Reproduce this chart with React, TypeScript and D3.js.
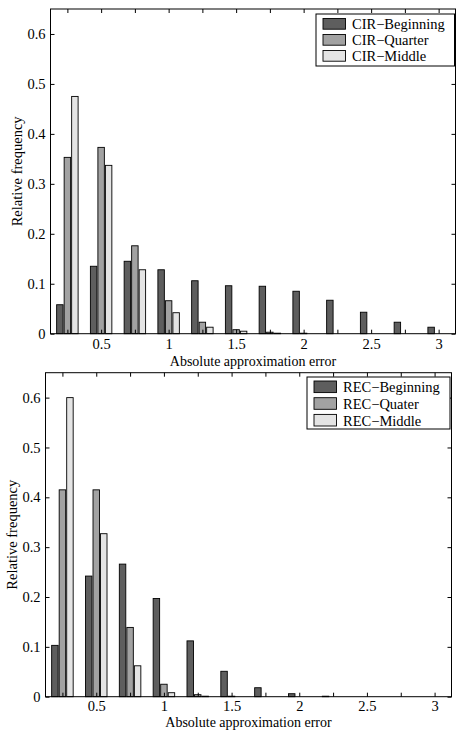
import React, { useRef, useEffect } from 'react';
import * as d3 from 'd3';

// bin centres of the histogram (absolute approximation error)
const bins = [0.25, 0.5, 0.75, 1, 1.25, 1.5, 1.75, 2, 2.25, 2.5, 2.75, 3];

// upper panel: CIR
const cirBeginning = [0.058, 0.135, 0.145, 0.128, 0.106, 0.096, 0.095, 0.085, 0.067, 0.043, 0.023, 0.013];
const cirQuarter = [0.353, 0.373, 0.176, 0.066, 0.023, 0.008, 0.003, 0.001, 0, 0, 0, 0];
const cirMiddle = [0.475, 0.337, 0.128, 0.042, 0.013, 0.005, 0.001, 0, 0, 0, 0, 0];
const cirNames = ['CIR\u2212Beginning', 'CIR\u2212Quarter', 'CIR\u2212Middle'];

// lower panel: REC
const recBeginning = [0.103, 0.242, 0.266, 0.197, 0.112, 0.051, 0.018, 0.006, 0.001, 0, 0, 0];
const recQuater = [0.415, 0.415, 0.139, 0.025, 0.004, 0.001, 0, 0, 0, 0, 0, 0];
const recMiddle = [0.6, 0.327, 0.062, 0.008, 0.001, 0, 0, 0, 0, 0, 0, 0];
const recNames = ['REC\u2212Beginning', 'REC\u2212Quater', 'REC\u2212Middle'];

const xTicks = [0.25, 0.5, 0.75, 1, 1.25, 1.5, 1.75, 2, 2.25, 2.5, 2.75, 3];
const xTickLabels = ['', '0.5', '', '1', '', '1.5', '', '2', '', '2.5', '', '3'];
const yTicks = [0, 0.1, 0.2, 0.3, 0.4, 0.5, 0.6];
const yTickLabels = ['0', '0.1', '0.2', '0.3', '0.4', '0.5', '0.6'];

const colors = ['#5e5e5e', '#a2a2a2', '#e4e4e4'];
const FONT = '"Liberation Serif", "Times New Roman", serif';
const FS = 14.5;

function drawPanel(svg, cfg) {
  const { left, right, top, bottom, series, names, ylabelX, xlabelY, xlabelSize, tickPad, legend } = cfg;
  const g = svg.append('g');

  const x = d3.scaleLinear().domain([0.125, 3.125]).range([left, right]);
  const y = d3.scaleLinear().domain([0, 0.65]).range([bottom, top]);

  // matlab style grouped bars
  const step = 0.25;
  const slot = (step * 0.667) / 3;
  const bw = slot * 0.86;

  series.forEach((vals, si) => {
    g.append('g')
      .selectAll('rect')
      .data(vals)
      .join('rect')
      .attr('x', (d, i) => x(bins[i] + (si - 1) * slot - bw / 2))
      .attr('width', x(bw) - x(0))
      .attr('y', d => y(d))
      .attr('height', d => y(0) - y(d))
      .attr('fill', colors[si])
      .attr('stroke', '#000')
      .attr('stroke-width', 0.9);
  });

  // frame
  g.append('rect')
    .attr('x', left).attr('y', top)
    .attr('width', right - left).attr('height', bottom - top)
    .attr('fill', 'none').attr('stroke', '#000').attr('stroke-width', 1);

  const style = sel => {
    sel.select('.domain').remove();
    sel.selectAll('line').attr('stroke', '#000');
    sel.selectAll('text').attr('font-family', FONT).attr('font-size', FS).attr('fill', '#000');
  };

  g.append('g').attr('transform', `translate(0,${bottom})`)
    .call(d3.axisBottom(x).tickValues(xTicks).tickSizeInner(-4).tickSizeOuter(0).tickPadding(tickPad)
      .tickFormat((d, i) => xTickLabels[i]))
    .call(style);
  g.append('g').attr('transform', `translate(0,${top})`)
    .call(d3.axisTop(x).tickValues(xTicks).tickSizeInner(-4).tickSizeOuter(0).tickFormat(() => ''))
    .call(style);
  g.append('g').attr('transform', `translate(${left},0)`)
    .call(d3.axisLeft(y).tickValues(yTicks).tickSizeInner(-4).tickSizeOuter(0).tickPadding(5)
      .tickFormat((d, i) => yTickLabels[i]))
    .call(style);
  g.append('g').attr('transform', `translate(${right},0)`)
    .call(d3.axisRight(y).tickValues(yTicks).tickSizeInner(-4).tickSizeOuter(0).tickFormat(() => ''))
    .call(style);

  // axis titles
  g.append('text')
    .attr('transform', `translate(${ylabelX},${(top + bottom) / 2}) rotate(-90)`)
    .attr('text-anchor', 'middle')
    .attr('font-family', FONT).attr('font-size', FS)
    .text('Relative frequency');
  g.append('text')
    .attr('x', (left + right) / 2).attr('y', xlabelY)
    .attr('text-anchor', 'middle')
    .attr('font-family', FONT).attr('font-size', xlabelSize)
    .text('Absolute approximation error');

  // legend
  const lg = g.append('g');
  lg.append('rect')
    .attr('x', legend.x0).attr('y', legend.y0)
    .attr('width', legend.x1 - legend.x0).attr('height', legend.y1 - legend.y0)
    .attr('fill', '#fff').attr('stroke', '#000').attr('stroke-width', 1);
  names.forEach((name, i) => {
    const ry = legend.y0 + legend.pad + i * legend.row;
    lg.append('rect')
      .attr('x', legend.x0 + 7).attr('y', ry)
      .attr('width', 22.5).attr('height', legend.sh)
      .attr('fill', colors[i]).attr('stroke', '#000').attr('stroke-width', 0.9);
    lg.append('text')
      .attr('x', legend.x0 + 7 + 22.5 + 6.5).attr('y', ry + legend.sh - 0.5)
      .attr('font-family', FONT).attr('font-size', FS)
      .text(name);
  });
}

export default function App() {
  const ref = useRef(null);

  useEffect(() => {
    const svg = d3.select(ref.current);
    svg.selectAll('*').remove();

    drawPanel(svg, {
      left: 50.5, right: 455.5, top: 9, bottom: 333.7,
      series: [cirBeginning, cirQuarter, cirMiddle],
      names: cirNames,
      ylabelX: 22, xlabelY: 365.5, xlabelSize: 14, tickPad: 5,
      legend: { x0: 316, x1: 454.5, y0: 14, y1: 66, pad: 4.5, row: 16, sh: 10.7 },
    });
    drawPanel(svg, {
      left: 45.5, right: 451.5, top: 372.7, bottom: 696.7,
      series: [recBeginning, recQuater, recMiddle],
      names: recNames,
      ylabelX: 17, xlabelY: 727, xlabelSize: 14, tickPad: 4,
      legend: { x0: 307, x1: 450, y0: 377, y1: 429, pad: 4, row: 16.7, sh: 11.6 },
    });
  }, []);

  return (
    <svg
      ref={ref}
      width={456}
      height={731}
      style={{ position: 'absolute', left: 0, top: 0, background: '#fff' }}
    />
  );
}
